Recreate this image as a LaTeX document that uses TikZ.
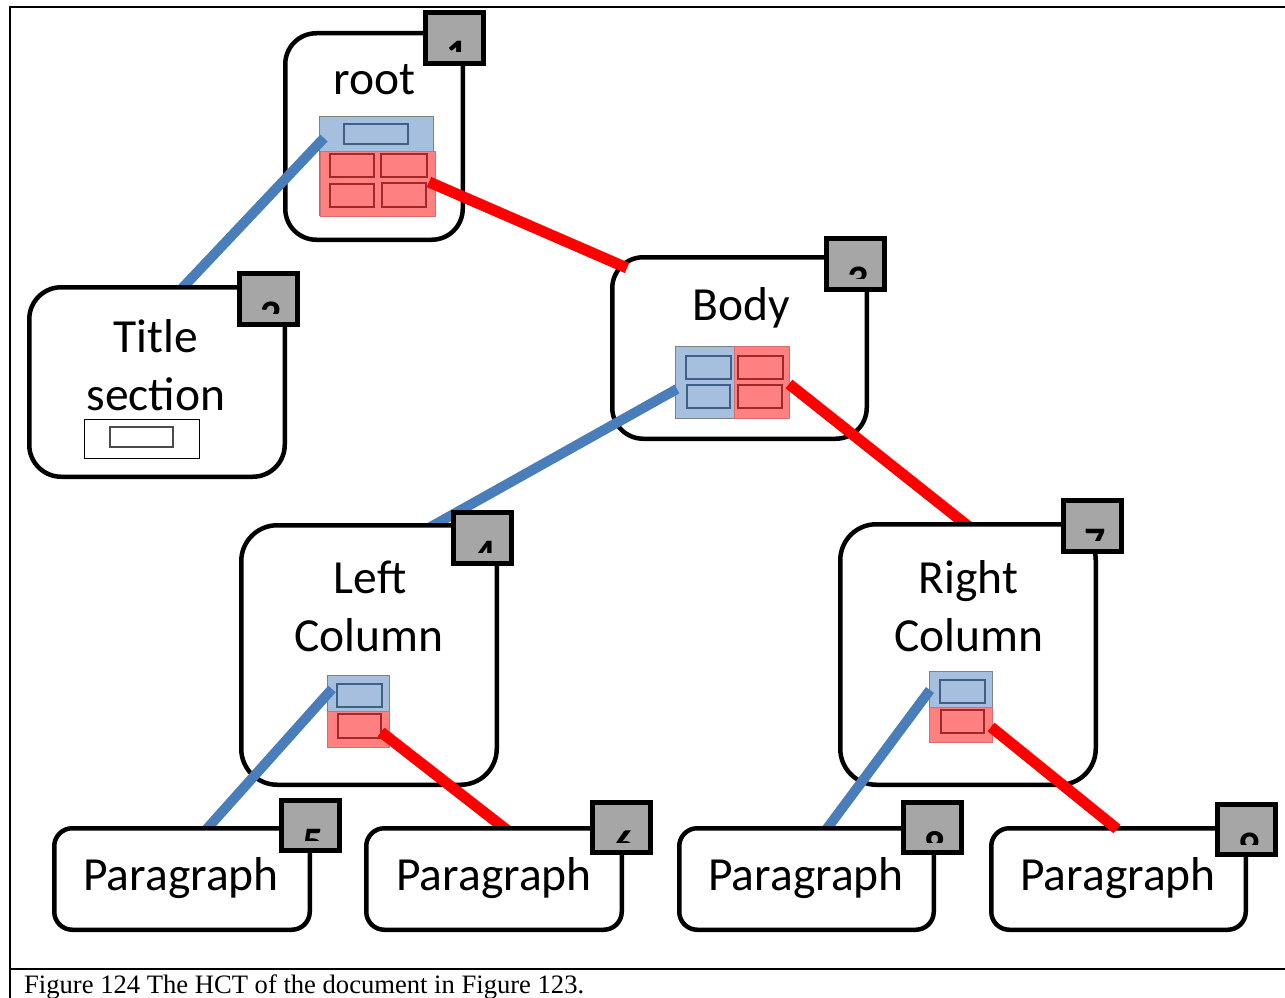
\documentclass[tikz,border=0pt]{standalone}
\usepackage{fontspec}
\setmainfont{Carlito}
\newfontfamily\capfont{Liberation Serif}
\definecolor{lnblue}{HTML}{4A7EBB}
\definecolor{lnred}{HTML}{FF0000}
\definecolor{cblue}{HTML}{A7BFDE}
\definecolor{cred}{HTML}{FF8080}
\definecolor{cbluedk}{HTML}{3F5F86}
\definecolor{creddk}{HTML}{A02828}
\definecolor{sqgray}{HTML}{A6A6A6}
\tikzset{
  treebox/.style={draw=black, line width=4.5pt, fill=white, inner sep=0pt, rectangle},
  lbl/.style={inner sep=0pt, anchor=base, font=\fontsize{47.5}{56}\selectfont},
  numsq/.style={draw=black, line width=5pt, fill=sqgray, inner sep=0pt, rectangle},
  digit/.style={inner sep=0pt, anchor=north, font=\fontsize{42}{50}\selectfont\bfseries},
  blueln/.style={draw=lnblue, line width=10pt},
  redln/.style={draw=lnred, line width=11pt},
  cbl/.style={fill=cblue, draw=gray, line width=0.8pt},
  crd/.style={fill=cred, draw=cred!85!black, line width=0.8pt},
  ibl/.style={fill=cblue, draw=cbluedk, line width=1.2pt},
  ird/.style={fill=cred, draw=creddk, line width=1.2pt},
  frameln/.style={draw=black, line width=2pt},
}
\newcommand\mkbox[6]{%
  \pgfmathsetmacro\bw{#4-#2-4.5}\pgfmathsetmacro\bh{#5-#3-4.5}%
  \pgfmathsetmacro\bx{(#2+#4)/2}\pgfmathsetmacro\by{(#3+#5)/2}%
  \node[treebox, rounded corners=#6pt, minimum width=\bw pt, minimum height=\bh pt] (#1) at (\bx,\by) {};}
\newcommand\mksq[6]{%
  \pgfmathsetmacro\sw{#4-#2-5}\pgfmathsetmacro\sh{#5-#3-5}%
  \pgfmathsetmacro\sx{(#2+#4)/2}\pgfmathsetmacro\sy{(#3+#5)/2}%
  \pgfmathsetmacro\dx{\sx+3}\pgfmathsetmacro\dy{#3+31}%
  \pgfmathsetmacro\cxa{#2+5}\pgfmathsetmacro\cxb{#4-5}%
  \pgfmathsetmacro\cya{#3+5}\pgfmathsetmacro\cyb{#3+42}%
  \node[numsq, minimum width=\sw pt, minimum height=\sh pt] (sq#1) at (\sx,\sy) {};
  \begin{scope}
    \clip (\cxa,\cya) rectangle (\cxb,\cyb);
    \node[digit] (dg#1) at (\dx,\dy) {#6};
  \end{scope}}
\begin{document}
\begin{tikzpicture}[x=1pt, y=-1pt]
\useasboundingbox (0,0) rectangle (1285,998);
% frame
\coordinate (fa) at (9,7.5);
\coordinate (fb) at (1285,7.5);
\coordinate (fc) at (10,7);
\coordinate (fd) at (10,998);
\coordinate (fe) at (10,969);
\coordinate (ff) at (1285,969);
\draw[frameln] (fa) -- (fb);
\draw[frameln] (fc) -- (fd);
\draw[frameln] (fe) -- (ff);

% ---------- root ----------
\mkbox{root}{283}{31}{465}{242}{31}
\node[lbl] (troot) at (374.5,94) {root};
\draw[cbl] (319,116) rectangle (433,215);
\fill[cblue] (319,116) rectangle (433,152);
\draw[gray, line width=0.8pt] (319,116) rectangle (433,152);
\draw[crd] (320,151) rectangle (435,216);
\draw[ibl] (344,124) rectangle (408,144);
\draw[ird] (330,154) rectangle (374,177);
\draw[ird] (381,154) rectangle (427,177);
\draw[ird] (330,184) rectangle (374,207);
\draw[ird] (382,183) rectangle (426,207);
\mksq{1}{423}{10}{486}{66}{1}

% connector root -> title
\coordinate (e1a) at (324,138);
\coordinate (e1b) at (171,300);
\draw[blueln] (e1a) -- (e1b);

% ---------- title section ----------
\mkbox{title}{27}{285}{287}{479}{32}
\node[lbl] (ttitleA) at (156,352) {Title};
\node[lbl] (ttitleB) at (156,410) {section};
\draw[black, line width=1pt, fill=white] (84,419) rectangle (199,458);
\draw[gray!60!black, line width=1.2pt] (110,427) rectangle (173,447);
\mksq{2}{237}{271}{300}{327}{2}

% ---------- body ----------
\mkbox{body}{610}{255}{869}{441}{31}
\node[lbl] (tbody) at (741,320) {Body};
\draw[cbl] (675,346) rectangle (734,418);
\draw[crd] (734,346) rectangle (789,418);
\draw[ibl] (686,356) rectangle (731,379);
\draw[ibl] (687,385) rectangle (730,408);
\draw[ird] (738,356) rectangle (783,379);
\draw[ird] (738,385) rectangle (782,408);
\mksq{3}{824}{236}{887}{292}{3}

% connectors body -> columns
\coordinate (e3a) at (677,389);
\coordinate (e3b) at (418,534);
\draw[blueln] (e3a) -- (e3b);
\coordinate (e4a) at (789,384);
\coordinate (e4b) at (983,538);
\draw[redln] (e4a) -- (e4b);

% ---------- left column ----------
\mkbox{left}{239}{523}{499}{787}{36}
\node[lbl] (tleftA) at (370,593) {Left};
\node[lbl] (tleftB) at (369,651) {Column};
\draw[cbl] (327,675) rectangle (389,711);
\draw[crd] (327,711) rectangle (389,747);
\draw[ibl] (337,684) rectangle (382,707);
\draw[ird] (338,714) rectangle (381,738);
\mksq{4}{451}{510}{514}{566}{4}

% ---------- right column ----------
\mkbox{right}{838}{522}{1098}{787}{36}
\node[lbl] (trightA) at (968.5,593) {Right};
\node[lbl] (trightB) at (969,651) {Column};
\draw[cbl] (929,671) rectangle (992,707);
\draw[crd] (929,707) rectangle (992,742);
\draw[ibl] (940,680) rectangle (985,703);
\draw[ird] (941,710) rectangle (984,733);
\mksq{7}{1061}{498}{1124}{554}{7}

% connectors columns -> paragraphs
\coordinate (e5a) at (332,689);
\coordinate (e5b) at (196,841);
\draw[blueln] (e5a) -- (e5b);
\coordinate (e6a) at (381,732);
\coordinate (e6b) at (517,838);
\draw[redln] (e6a) -- (e6b);
\coordinate (e8a) at (930,690);
\coordinate (e8b) at (817,842);
\draw[blueln] (e8a) -- (e8b);

% ---------- paragraphs ----------
\mkbox{pa}{52}{826}{312}{932}{18}
\node[lbl] (tpa) at (181,890) {Paragraph};
\mksq{5}{279}{798}{342}{853}{5}

\mkbox{pb}{364}{826}{624}{932}{18}
\node[lbl] (tpb) at (494,890) {Paragraph};
\mksq{6}{590}{800}{653}{855}{6}

\mkbox{pc}{677}{826}{936}{932}{18}
\node[lbl] (tpc) at (806,890) {Paragraph};
\mksq{8}{901}{800}{964}{855}{8}

\mkbox{pd}{989}{826}{1248}{932}{18}
\node[lbl] (tpd) at (1118,890) {Paragraph};
\mksq{9}{1215}{802}{1278}{857}{9}

% connectors drawn on top
\coordinate (e2a) at (429,182);
\coordinate (e2b) at (627,268);
\draw[redln] (e2a) -- (e2b);
\coordinate (e9a) at (991,727);
\coordinate (e9b) at (1117,829);
\draw[redln] (e9a) -- (e9b);

% caption
\node[inner sep=0pt, anchor=base west, font=\capfont\fontsize{26.6}{30}\selectfont] (cap) at (24,993) {Figure 124 The HCT of the document in Figure 123.};
\end{tikzpicture}
\end{document}
